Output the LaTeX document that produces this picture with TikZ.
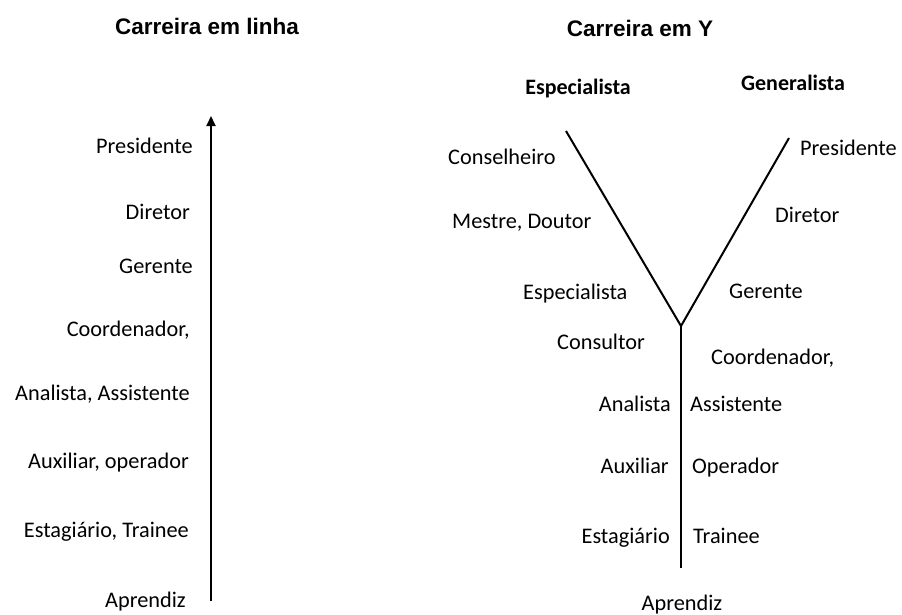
\documentclass[tikz,border=0pt]{standalone}
\usepackage{fontspec}
\setmainfont{Carlito}
\newfontfamily\titlefont{Liberation Sans}
\usetikzlibrary{arrows.meta}
\begin{document}
\begin{tikzpicture}[x=1pt,y=-1pt,
  lbl/.style={inner sep=0pt,text height=15pt,text depth=5pt,font=\fontsize{22.3}{26}\selectfont},
  ttl/.style={inner sep=0pt,font=\titlefont\bfseries\fontsize{22.5}{26}\selectfont},
  sub/.style={inner sep=0pt,text height=15pt,text depth=5pt,font=\bfseries\fontsize{22}{26}\selectfont},
  ln/.style={line width=2pt,black}]
\useasboundingbox (0,0) rectangle (902,614);
% titles
\node[ttl] (t1) at (207,26) {Carreira em linha};
\node[ttl] (t2) at (640,28) {Carreira em Y};
\node[sub] (esp) at (578,89) {Especialista};
\node[sub] (gen) at (793,85) {Generalista};
% left ladder
\coordinate (abot) at (211,601);
\coordinate (atop) at (211,116);
\draw[ln,-{Triangle[length=10pt,width=9pt]}] (abot) -- (atop);
\node[lbl,anchor=east] (l1) at (193,148) {Presidente};
\node[lbl,anchor=east] (l2) at (190,214) {Diretor};
\node[lbl,anchor=east] (l3) at (193,268) {Gerente};
\node[lbl,anchor=east] (l4) at (190,331) {Coordenador,};
\node[lbl,anchor=east] (l5) at (190,395) {Analista, Assistente};
\node[lbl,anchor=east] (l6) at (189,463) {Auxiliar, operador};
\node[lbl,anchor=east] (l7) at (189,532) {Estagiário, Trainee};
\node[lbl,anchor=east] (l8) at (186,602) {Aprendiz};
% Y
\coordinate (yl) at (566,131);
\coordinate (yr) at (789,138);
\coordinate (yj) at (681,326);
\coordinate (yb) at (681,568);
\draw[ln] (yl) -- (yj) -- (yr);
\draw[ln] (yj) -- (yb);
\node[lbl,anchor=west] (r1) at (448,159) {Conselheiro};
\node[lbl,anchor=west] (r2) at (452,223) {Mestre, Doutor};
\node[lbl,anchor=west] (r3) at (523,294) {Especialista};
\node[lbl,anchor=west] (r4) at (557,344) {Consultor};
\node[lbl,anchor=west] (g1) at (800,150) {Presidente};
\node[lbl,anchor=west] (g2) at (775,217) {Diretor};
\node[lbl,anchor=west] (g3) at (729,293) {Gerente};
\node[lbl,anchor=west] (g4) at (711,359) {Coordenador,};
\node[lbl,anchor=east] (b1) at (671,406) {Analista};
\node[lbl,anchor=west] (c1) at (690,406) {Assistente};
\node[lbl,anchor=east] (b2) at (669,468) {Auxiliar};
\node[lbl,anchor=west] (c2) at (692,468) {Operador};
\node[lbl,anchor=east] (b3) at (670,538) {Estagiário};
\node[lbl,anchor=west] (c3) at (693,538) {Trainee};
\node[lbl] (ap) at (682,605) {Aprendiz};
\end{tikzpicture}
\end{document}
